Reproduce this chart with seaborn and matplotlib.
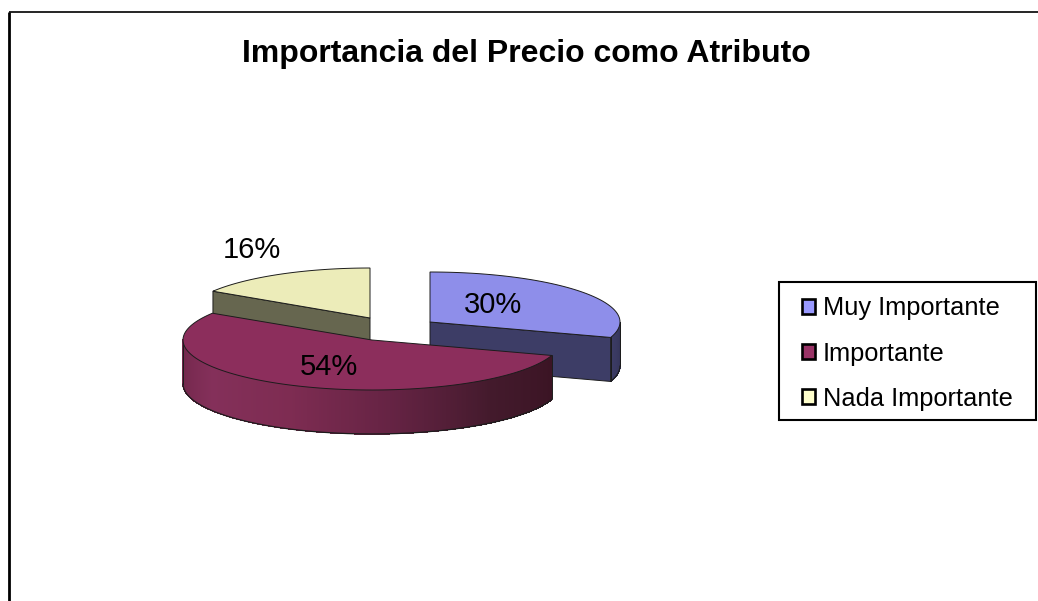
import matplotlib
matplotlib.use("Agg")
import matplotlib.pyplot as plt
from matplotlib.patches import Patch, Polygon, Rectangle
import numpy as np
import seaborn as sns

# ------------------------------------------------------
# Data
# ------------------------------------------------------

title = "Importancia del Precio como Atributo"
categories = ["Muy Importante", "Importante", "Nada Importante"]
shares = [30, 54, 16]

# ------------------------------------------------------
# Style
# ------------------------------------------------------

sns.set_theme(style="white")
plt.rcParams["font.family"] = ["Liberation Sans", "DejaVu Sans"]

legend_colors = ["#9999ff", "#993366", "#ffffcc"]
top_colors = ["#8e8eea", "#8c2e5c", "#ececb9"]
cut_colors = ["#3d3d66", "#3d1528", "#66664f"]
wall_stops = [
    ["#3d3d66", "#34345a"],
    ["#6e2548", "#84305a", "#7e2c52", "#642343", "#431a2c", "#3b1424"],
    ["#66664f", "#66664f"],
]
edge = "#1c1c1c"

# pixel layout: slice centres, radii and depth of the tilted pie
centres = [(430, 322), (372, 340), (370, 318)]
radii = [190, 189, 186]
ry, depth = 50, 44
label_xy = [(493, 305), (329, 367), (252, 250)]


def rim(i, start, stop, n=120):
    # angles run clockwise from twelve o'clock, as in the spreadsheet pie
    cx, cy = centres[i]
    t = np.radians(np.linspace(start, stop, n))
    return np.column_stack([cx + radii[i] * np.sin(t), cy - ry * np.cos(t)])


def draw_slice(ax, i, start, stop, order):
    cx, cy = centres[i]
    z = order

    # outer wall, only the part facing the viewer
    a, b = max(start, 90), min(stop, 270)
    if a < b:
        pts = rim(i, a, b, 260)
        pal = sns.blend_palette(wall_stops[i], len(pts) - 1)
        x_order = np.argsort(pts[:-1, 0])
        for k, c in zip(x_order, pal):
            strip = [pts[k], pts[k + 1], pts[k + 1] + [0, depth], pts[k] + [0, depth]]
            ax.add_patch(Polygon(strip, fc=c, ec=c, lw=0.3, antialiased=False, zorder=z))
        ax.plot(pts[:, 0], pts[:, 1] + depth, color=edge, lw=0.9, zorder=z + 0.2)
        for p in (pts[0], pts[-1]):
            ax.plot([p[0], p[0]], [p[1], p[1] + depth], color=edge, lw=0.7, zorder=z + 0.2)

    # cut faces that turn towards the viewer
    for ang, visible in ((start, 180 < start < 360), (stop, 0 < stop < 180)):
        if not visible:
            continue
        p = rim(i, ang, ang, 1)[0]
        face = [(cx, cy), p, p + [0, depth], (cx, cy + depth)]
        ax.add_patch(Polygon(face, fc=cut_colors[i], ec=edge, lw=0.7, zorder=z + 0.1))

    # top face
    top = np.vstack([[cx, cy], rim(i, start, stop)])
    ax.add_patch(Polygon(top, fc=top_colors[i], ec=edge, lw=0.7, zorder=z + 0.3))


fig = plt.figure(figsize=(10.38, 6.01), dpi=100, facecolor="white")
ax = fig.add_axes([0, 0, 1, 1])
ax.set_xlim(0, 1038)
ax.set_ylim(601, 0)
ax.axis("off")

# chart frame, cut off at the right and bottom of the image
ax.plot([8.7, 8.7], [601, 11.5], color="black", lw=2, solid_capstyle="butt")
ax.plot([8.7, 1038], [11.8, 11.8], color="black", lw=1.2, solid_capstyle="butt")

ax.text(526, 54, title, fontsize=23, fontweight="bold", color="black", ha="center", va="center")

# ------------------------------------------------------
# Pie
# ------------------------------------------------------

stops = np.cumsum(shares) / np.sum(shares) * 360
starts = np.concatenate([[0], stops[:-1]])

for i, order in zip([2, 0, 1], [2, 3, 4]):
    draw_slice(ax, i, starts[i], stops[i], order)

for xy, s in zip(label_xy, shares):
    ax.text(xy[0], xy[1], f"{s}%", fontsize=21, color="black", ha="center", va="center", zorder=6)

# ------------------------------------------------------
# Legend
# ------------------------------------------------------

# box is drawn apart, its side and top paddings differ
ax.add_patch(Rectangle((779, 282), 257, 138, fc="white", ec="black", lw=1.5, zorder=7))

handles = [Patch(fc=c, ec="black", lw=1.9) for c in legend_colors]
leg = ax.legend(
    handles,
    categories,
    loc="center",
    bbox_to_anchor=(907.5 / 1038, 1 - 353.5 / 601),
    borderaxespad=0,
    borderpad=0,
    fontsize=18.3,
    labelcolor="black",
    frameon=False,
    handlelength=0.5,
    handleheight=0.5,
    handletextpad=0.3,
    labelspacing=0.83,
)
leg.set_zorder(8)

fig.savefig("out.png", dpi=100)
